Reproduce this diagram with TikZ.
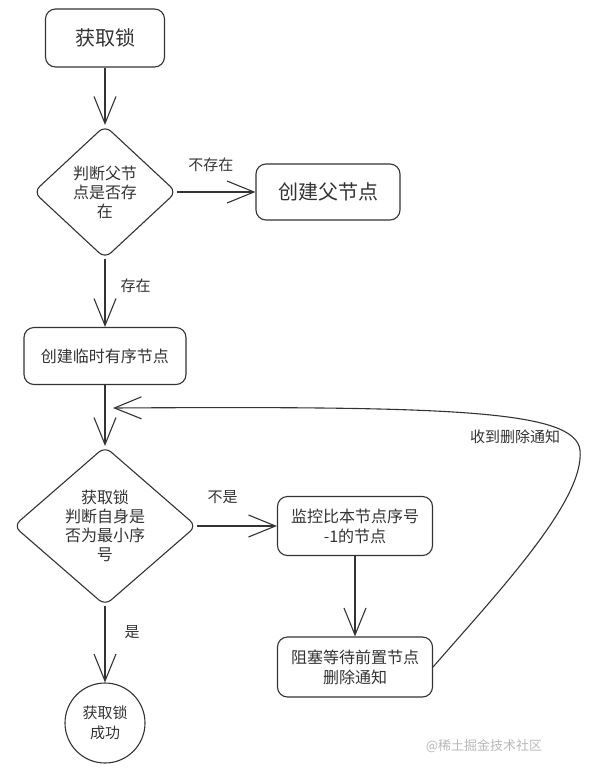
\documentclass[tikz,border=0pt]{standalone}
\usepackage{fontspec}
\setmainfont{Noto Sans CJK SC}
\usepackage{xcolor}
\definecolor{LockInk}{HTML}{333333}
\definecolor{LockMark}{HTML}{B8B8B8}
\usepackage{tikz}
\usetikzlibrary{arrows.meta,shapes.geometric}

\begin{document}
\begin{tikzpicture}[
  x=1pt,y=-1pt,
  every node/.style={text=LockInk},
  stepbox/.style={rounded corners=10pt,draw=LockInk,line width=1.1pt,fill=white,align=center,inner sep=0pt,font=\fontsize{16}{20}\selectfont},
  check/.style={diamond,rounded corners=8pt,draw=LockInk,line width=1.1pt,fill=white,align=center,inner sep=0pt,font=\fontsize{16}{19}\selectfont},
  finish/.style={circle,draw=LockInk,line width=1.1pt,fill=white,align=center,inner sep=0pt,minimum size=80pt,font=\fontsize{15}{20}\selectfont},
  flow/.style={-{Straight Barb[length=27pt,width=22pt]},line width=1.1pt,draw=LockInk},
  tag/.style={inner sep=0pt,font=\fontsize{15}{18}\selectfont}
]
\useasboundingbox (0,0) rectangle (591,772);
\node[stepbox,minimum width=119pt,minimum height=58pt,font=\fontsize{20}{24}\selectfont] (acquire) at (105,38) {获取锁};
\node[check,minimum width=143pt,minimum height=133pt] (parentQ) at (105,192) {判断父节\\点是否存\\在};
\node[stepbox,minimum width=144pt,minimum height=56pt,font=\fontsize{20}{24}\selectfont] (mkParent) at (328,192) {创建父节点};
\node[stepbox,minimum width=162pt,minimum height=57pt] (mkSeq) at (105,356) {创建临时有序节点};
\node[check,minimum width=183pt,minimum height=159pt] (minQ) at (105,526) {获取锁\\判断自身是\\否为最小序\\号};
\node[stepbox,minimum width=155pt,minimum height=59pt] (watch) at (355,526) {监控比本节点序号\\-1的节点};
\node[stepbox,minimum width=155pt,minimum height=60pt] (block) at (355,667) {阻塞等待前置节点\\删除通知};
\node[finish] (done) at (105,723) {获取锁\\成功};
\coordinate (rejoin) at (113,408);
\node[tag] (lblNotify) at (515,437) {收到删除通知};
\node[tag,text=LockMark,font=\fontsize{13}{16}\selectfont] (mark) at (484,746) {@稀土掘金技术社区};

\draw[flow] (acquire) -- (parentQ);
\draw[flow] (parentQ) -- node[tag,pos=0.43,above=20pt]{不存在} (mkParent);
\draw[flow] (parentQ) -- node[tag,pos=0.4,right=15pt]{存在} (mkSeq);
\draw[flow] (mkSeq) -- (minQ);
\draw[flow] (minQ) -- node[tag,pos=0.32,above=22pt]{不是} (watch);
\draw[flow] (minQ) -- node[tag,pos=0.34,right=19pt]{是} (done);
\draw[flow] (watch) -- (block);
\draw[flow] (block.east) .. controls (500,590) and (585,500) .. (580,450) .. controls (575,410) and (450,406) .. (rejoin);
\end{tikzpicture}
\end{document}
